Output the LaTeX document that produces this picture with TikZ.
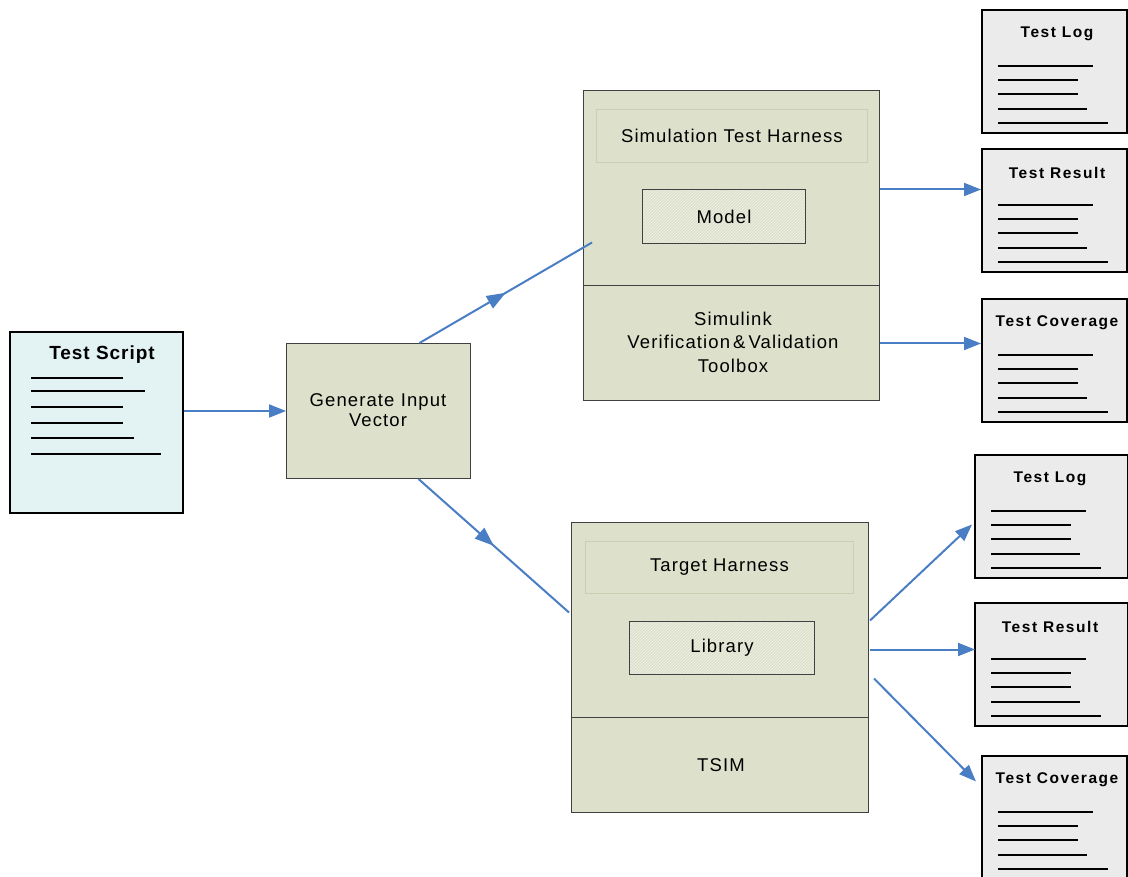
\documentclass[tikz,border=0pt]{standalone}
\usepackage{fontspec}
\setmainfont{Liberation Sans}[LetterSpace=6]
\usetikzlibrary{arrows.meta,decorations.markings,patterns}

\definecolor{linkblue}{HTML}{4A7EC4}
\definecolor{olivefill}{HTML}{DDE1CB}
\definecolor{olivehatch}{HTML}{F2F3EA}
\definecolor{innerline}{HTML}{C9D0B2}
\definecolor{docfill}{HTML}{EBEBEB}
\definecolor{scriptfill}{HTML}{E3F2F3}

\tikzset{
  block/.style={draw=black!75, line width=1pt, fill=olivefill, inner sep=0pt},
  inner/.style={draw=innerline, line width=0.8pt, inner sep=0pt},
  hatched/.style={draw=black!75, line width=1pt, inner sep=0pt,
    preaction={fill=olivefill}, pattern=north east lines, pattern color=olivehatch},
  docbox/.style={draw=black, line width=2pt, fill=docfill, inner sep=0pt,
    minimum width=145pt, minimum height=123pt},
  doctitle/.style={font=\fontsize{15.5}{18}\selectfont\bfseries\addfontfeatures{LetterSpace=10}},
  docline/.style={line width=1.6pt, black},
  label/.style={font=\fontsize{18.5}{23.5}\selectfont, align=center},
  link/.style={draw=linkblue, line width=2pt},
  endarrow/.style={link, -{Triangle[length=17pt,width=13pt]}},
  midarrow/.style={link, postaction={decorate}, decoration={markings,
    mark=at position 0.5 with {\arrow[linkblue]{Triangle[length=19pt,width=14pt]}}}}
}

% document icon: framed sheet with a bold title and five text rules
\newcommand\docbox[5][145pt]{%
  \node[docbox, minimum width=#1, anchor=north west] (#2) at (#3,#4) {};
  \node[doctitle] (#2-title) at ([shift={(76,25)}]#2.north west) {#5};
  \foreach \dy/\len in {57/95,71/80,85/80,100/89,114/110}
    \draw[docline] ([shift={(17,\dy)}]#2.north west) -- ++(\len,0);
}

\begin{document}
\begin{tikzpicture}[x=1pt,y=-1pt]
\useasboundingbox (0,0) rectangle (1128,877);
\clip (0,0) rectangle (1128,877);

% test script
\node[draw=black, line width=2pt, fill=scriptfill, minimum width=173pt,
  minimum height=181pt, anchor=north west] (script) at (9,331) {};
\node[font=\fontsize{19}{22}\selectfont\bfseries\addfontfeatures{LetterSpace=5}]
  (script-title) at (102,355) {Test Script};
\foreach \y/\x in {378/123,391/145,407/123,423/123,438/134,454/161}
  \draw[docline] (31,\y) -- (\x,\y);

% input vector generator
\node[block, minimum width=184pt, minimum height=135pt, anchor=north west]
  (gen) at (286,343) {};
\node[label, font=\fontsize{18.5}{20}\selectfont] (gen-text) at (378,410)
  {Generate Input\\Vector};

% simulation side
\node[block, minimum width=296pt, minimum height=310pt, anchor=north west]
  (sim) at (583,90) {};
\draw[black!75, line width=1pt] (583,286) -- (879,286);
\node[inner, minimum width=271pt, minimum height=53pt, anchor=north west]
  (simharness) at (596,109) {};
\node[label] at (simharness.center) {Simulation Test Harness};
\node[hatched, minimum width=163pt, minimum height=54pt, anchor=north west]
  (model) at (642,189) {};
\node[label] at (model.center) {Model};
\node[label] (vv) at (733,342) {Simulink\\Verification\,\&\,Validation\\Toolbox};

% target side
\node[block, minimum width=297pt, minimum height=290pt, anchor=north west]
  (tgt) at (571,522) {};
\draw[black!75, line width=1pt] (571,717) -- (868,717);
\node[inner, minimum width=268pt, minimum height=52pt, anchor=north west]
  (tgtharness) at (585,541) {};
\node[label] at (tgtharness.center) {Target Harness};
\node[hatched, minimum width=185pt, minimum height=53pt, anchor=north west]
  (lib) at (629,621) {};
\node[label] at (lib.center) {Library};
\node[label] (tsim) at (721,765) {TSIM};

% output documents
\docbox{log1}{981}{9}{Test Log}
\docbox{res1}{981}{148}{Test Result}
\docbox{cov1}{981}{298}{Test Coverage}
\docbox[153pt]{log2}{974}{454}{Test Log}
\docbox[153pt]{res2}{974}{602}{Test Result}
\docbox{cov2}{981}{755}{Test Coverage}

% connectors
\draw[endarrow] (script.east |- gen.west) -- (gen.west);
\draw[midarrow] ([xshift=41]gen.north) -- ([shift={(9,-3)}]sim.west);
\draw[midarrow] ([xshift=40]gen.south) -- ([shift={(-2,-55)}]tgt.west);
\draw[endarrow] ([shift={(0,-56)}]sim.east) -- ([shift={(0,-56)}]sim.east -| res1.west);
\draw[endarrow] ([shift={(0,98)}]sim.east) -- ([shift={(0,98)}]sim.east -| cov1.west);
\draw[endarrow] ([shift={(1,-47)}]tgt.east) -- ([shift={(-2,8)}]log2.west);
\draw[endarrow] ([shift={(1,-18)}]tgt.east) -- ([shift={(1,-18)}]tgt.east -| res2.west);
\draw[endarrow] ([shift={(5,11)}]tgt.east) -- ([shift={(-5,-36)}]cov2.west);
\end{tikzpicture}
\end{document}
